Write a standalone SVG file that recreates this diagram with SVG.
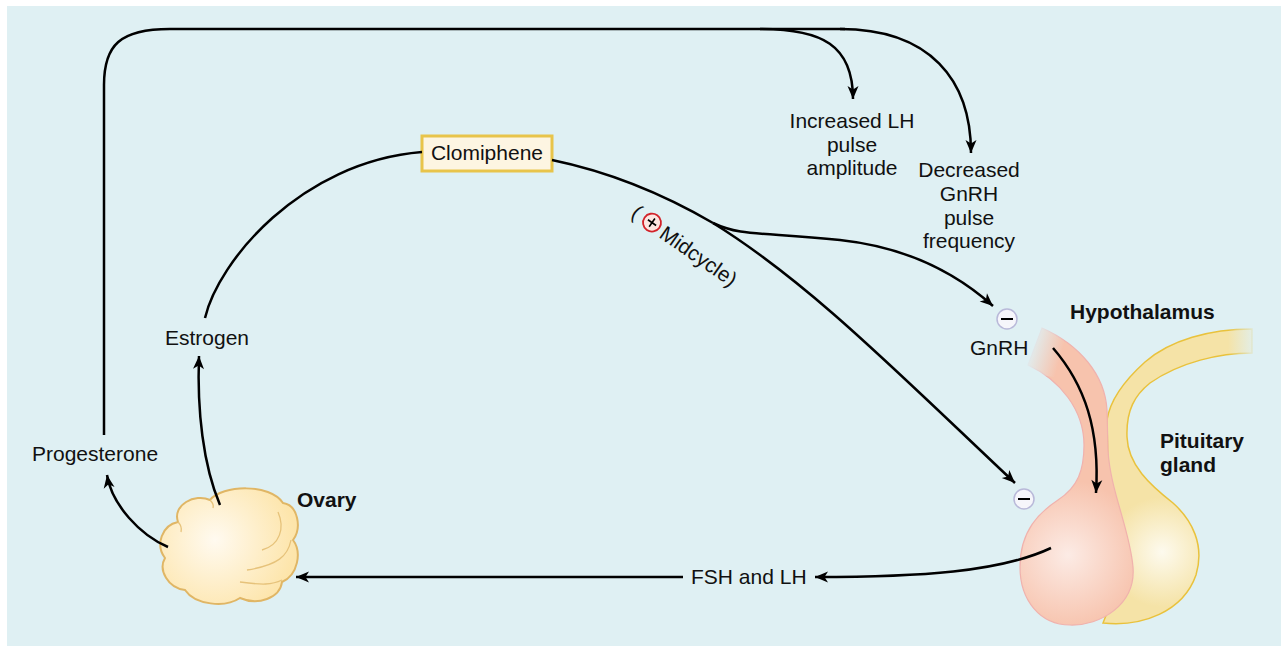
<svg xmlns="http://www.w3.org/2000/svg" width="1281" height="646" viewBox="0 0 1281 646">
  <style>
    .lbl { font-family: "Liberation Sans", Arial, sans-serif; font-size: 21px; fill: #111; }
    .bold { font-family: "Liberation Sans", Arial, sans-serif; font-size: 21px; font-weight: bold; fill: #111; }
    .wire { fill: none; stroke: #000; stroke-width: 2.5; }
    .arrow { marker-end: url(#ah); }
    .minus { fill: #f6f6fb; stroke: #b9b9d9; stroke-width: 1.5; }
  </style>
  <defs>
    <marker id="ah" viewBox="-14 -7 16 14" refX="0" refY="0" markerWidth="16" markerHeight="14" orient="auto" markerUnits="userSpaceOnUse">
      <path d="M0,0 L-13,-5.5 L-9.5,0 L-13,5.5 Z" fill="#000"/>
    </marker>
    <radialGradient id="ovaryFill" cx="215" cy="540" r="80" gradientUnits="userSpaceOnUse">
      <stop offset="0" stop-color="#fffaf0"/>
      <stop offset="1" stop-color="#fde5ab"/>
    </radialGradient>
    <radialGradient id="pinkFill" cx="1068" cy="555" r="75" gradientUnits="userSpaceOnUse">
      <stop offset="0" stop-color="#fcebe5"/>
      <stop offset="1" stop-color="#f7c3ad"/>
    </radialGradient>
    <radialGradient id="yellowFill" cx="1162" cy="552" r="55" gradientUnits="userSpaceOnUse">
      <stop offset="0" stop-color="#fdfaee"/>
      <stop offset="1" stop-color="#f5e3a7"/>
    </radialGradient>
    <linearGradient id="fadePink" x1="1030" y1="343" x2="1062" y2="352" gradientUnits="userSpaceOnUse">
      <stop offset="0" stop-color="#dff0f3" stop-opacity="1"/>
      <stop offset="1" stop-color="#dff0f3" stop-opacity="0"/>
    </linearGradient>
    <linearGradient id="fadeYellow" x1="1258" y1="0" x2="1228" y2="0" gradientUnits="userSpaceOnUse">
      <stop offset="0" stop-color="#dff0f3" stop-opacity="1"/>
      <stop offset="1" stop-color="#dff0f3" stop-opacity="0"/>
    </linearGradient>
  </defs>

  <rect x="0" y="0" width="1281" height="646" fill="#ffffff"/>
  <rect x="7" y="6" width="1274" height="640" fill="#dff0f3"/>

  <!-- hypothalamus and pituitary gland -->
  <g id="pituitary">
    <path d="M1252,329 C1210,329 1170,340 1145,362 C1125,380 1110,400 1107,420 L1108,470 L1112,600 L1103,623 C1142,627 1183,612 1196,575 C1205,545 1192,520 1173,503 C1150,485 1128,465 1127,437 C1126,410 1135,395 1150,383 C1180,362 1220,353 1252,353 Z" fill="url(#yellowFill)" stroke="#e9c23c" stroke-width="1.5"/>
    <rect x="1225" y="325" width="40" height="34" fill="url(#fadeYellow)"/>
    <text class="bold" x="1160" y="448">Pituitary</text>
    <text class="bold" x="1160" y="472">gland</text>
  </g>
  <g id="hypothalamus">
    <path d="M1042,328 C1080,345 1105,375 1107,410 L1108,450 C1110,490 1130,530 1133,567 C1136,605 1100,626 1070,625 C1040,625 1020,600 1020,567 C1020,530 1040,512 1058,500 C1078,487 1084,470 1084,445 C1084,410 1060,380 1028,365 Z" fill="url(#pinkFill)" stroke="#f0b2ad" stroke-width="1.2"/>
    <polygon points="1040,322 1066,330 1060,378 1020,372" fill="url(#fadePink)"/>
    <text class="bold" x="1070" y="319">Hypothalamus</text>
  </g>

  <!-- ovary -->
  <g id="ovary">
    <path d="M178,522 C172,505 195,493 210,500 C222,485 270,483 283,503 C298,505 302,528 293,540 C302,552 298,575 282,582 C280,598 258,606 240,598 C225,608 195,605 185,590 C168,588 158,570 165,558 C155,545 162,525 178,522 Z" fill="url(#ovaryFill)" stroke="#e0b665" stroke-width="2"/>
    <g fill="none" stroke="#e6c27a" stroke-width="1.3">
      <path d="M278,512 C285,528 280,545 262,550"/>
      <path d="M291,540 C288,556 278,565 247,570"/>
      <path d="M282,580 C272,585 262,585 240,582"/>
      <path d="M210,500 C213,503 214,505 213,508"/>
      <path d="M178,522 C181,525 182,528 181,532"/>
    </g>
    <text class="bold" x="297" y="507">Ovary</text>
  </g>

  <!-- Clomiphene -->
  <g id="clomiphene">
    <rect x="422" y="136" width="130" height="35" fill="#fdf5e2" stroke="#e8c44a" stroke-width="3"/>
    <text class="lbl" x="487" y="160" text-anchor="middle">Clomiphene</text>
  </g>

  <!-- labels -->
  <g id="estrogen"><text class="lbl" x="165" y="345">Estrogen</text></g>
  <g id="progesterone"><text class="lbl" x="32" y="461">Progesterone</text></g>
  <g id="lh-amplitude">
    <text class="lbl" x="852" y="128" text-anchor="middle">Increased LH</text>
    <text class="lbl" x="852" y="152" text-anchor="middle">pulse</text>
    <text class="lbl" x="852" y="175" text-anchor="middle">amplitude</text>
  </g>
  <g id="gnrh-frequency">
    <text class="lbl" x="969" y="177" text-anchor="middle">Decreased</text>
    <text class="lbl" x="969" y="201" text-anchor="middle">GnRH</text>
    <text class="lbl" x="969" y="225" text-anchor="middle">pulse</text>
    <text class="lbl" x="969" y="248" text-anchor="middle">frequency</text>
  </g>
  <g id="gnrh">
    <circle class="minus" cx="1007" cy="319" r="10"/>
    <line x1="1001" y1="319" x2="1013" y2="319" stroke="#000" stroke-width="2"/>
    <text class="lbl" x="970" y="355">GnRH</text>
  </g>
  <g id="pituitary-inhibition">
    <circle class="minus" cx="1024" cy="499" r="10"/>
    <line x1="1018" y1="499" x2="1030" y2="499" stroke="#000" stroke-width="2"/>
  </g>
  <g id="fsh-lh"><text class="lbl" x="691" y="584">FSH and LH</text></g>
  <g id="midcycle" transform="translate(634,210) rotate(35)">
    <text class="lbl" x="0" y="7">(</text>
    <circle cx="22" cy="0" r="9" fill="#fde6e2" stroke="#d2232a" stroke-width="1.8"/>
    <path d="M17,0 H27 M22,-5 V5" stroke="#000" stroke-width="1.6"/>
    <text class="lbl" x="35" y="8">Midcycle)</text>
  </g>

  <!-- connectors -->
  <g id="connectors">
    <path class="wire" d="M104,435 V85 C104,45 120,29 170,29 H845"/>
    <path class="wire arrow" d="M760,29 C822,29 853,45 853,99"/>
    <path class="wire arrow" d="M840,29 C930,29 971,80 971,153"/>
    <path class="wire arrow" d="M168,547 C140,535 112,505 107,475"/>
    <path class="wire arrow" d="M220,505 C203,465 197,410 199,356"/>
    <path class="wire" d="M205,318 C218,262 300,162 422,152"/>
    <path class="wire" d="M552,160 C610,172 665,195 713,223"/>
    <path class="wire arrow" d="M713,223 C740,236 760,232 840,240 C905,247 955,272 993,306"/>
    <path class="wire arrow" d="M713,223 C810,283 900,375 1015,483"/>
    <path class="wire arrow" d="M1053,348 C1085,385 1100,430 1096,493"/>
    <path class="wire arrow" d="M1051,548 C1000,572 920,577 815,577"/>
    <path class="wire arrow" d="M683,577 H296"/>
  </g>
</svg>
